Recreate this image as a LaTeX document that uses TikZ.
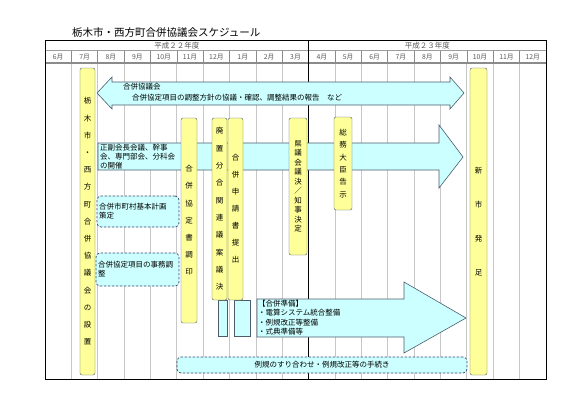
\documentclass[tikz,border=0pt]{standalone}
\usepackage{fontspec}
\setmainfont{Noto Sans CJK JP}
\usepackage{tikz}
\usetikzlibrary{calc}
\definecolor{PaleCyan}{rgb}{0.8, 1, 1}
\definecolor{PaleYellow}{rgb}{1, 1, 0.6}
\definecolor{EdgeGray}{rgb}{0.3, 0.36, 0.42}
\definecolor{DashBlue}{rgb}{0.18, 0.28, 0.4}
\definecolor{GridGray}{rgb}{0.78, 0.78, 0.78}
\definecolor{HeadGray}{rgb}{0.35, 0.35, 0.35}

\begin{document}
\begin{tikzpicture}[
    x=1pt, y=-1pt,
    yellowbar/.style={draw=EdgeGray, fill=PaleYellow, rounded corners=2pt,
        inner sep=0pt, align=center, font=\fontsize{7.5}{#1}\selectfont},
    yellowbar/.default=17,
    blockarrow/.style={draw=EdgeGray, fill=PaleCyan, line width=0.6pt},
    dashbox/.style={draw=DashBlue, fill=PaleCyan, dashed, line width=0.7pt,
        dash pattern=on 2.5pt off 1.5pt, rounded corners=4pt, inner sep=2pt,
        align=left, font=\fontsize{7.5}{9}\selectfont},
    arrowtext/.style={anchor=north west, inner sep=0pt, align=left,
        font=\fontsize{7.5}{#1}\selectfont},
    month/.style={text=HeadGray, inner sep=0pt, font=\fontsize{6.8}{7}\selectfont},
]
\useasboundingbox (0,0) rectangle (580,410);

% title
\node[anchor=west, inner sep=0pt, font=\fontsize{10.5}{12}\selectfont] (title)
    at (72,33) {栃木市・西方町合併協議会スケジュール};

% grid
\foreach \i in {1,...,18}
    \draw[GridGray, line width=0.8pt] (45+26.368*\i,63) -- (45+26.368*\i,379);
\foreach \i in {1,...,18}
    \draw[HeadGray!70, line width=0.6pt] (45+26.368*\i,50.5) -- (45+26.368*\i,63);
\draw[HeadGray!60, line width=0.5pt] (45,50.5) -- (546,50.5);
\draw[HeadGray!70, line width=1.4pt] (45,63) -- (546,63);
\draw[line width=1.2pt] (308.7,40) -- (308.7,379);
\draw[line width=1pt] (45,40) rectangle (546,379);

\node[month, font=\fontsize{7.5}{8}\selectfont] (fy22) at (176.8,45.5) {平成２２年度};
\node[month, font=\fontsize{7.5}{8}\selectfont] (fy23) at (427.4,45.5) {平成２３年度};
\foreach \m [count=\i from 0] in {6,7,8,9,10,11,12,1,2,3,4,5,6,7,8,9,10,11,12}
    \node[month] (m\i) at (58.2+26.368*\i,57) {{\m}月};

% block arrows
\draw[blockarrow] (97,93) -- (112,77) -- (112,82) -- (450,82) -- (450,77)
    -- (464,93) -- (450,109) -- (450,105) -- (112,105) -- (112,109) -- cycle;
\node[arrowtext=11] (council) at (123,83)
    {合併協議会\\\hspace*{9pt}合併協定項目の調整方針の協議・確認、調整結果の報告　など};

\draw[blockarrow] (98,143) -- (439,143) -- (439,125) -- (463,157)
    -- (439,188) -- (439,170) -- (98,170) -- cycle;
\node[arrowtext=9] (meetings) at (100,144)
    {正副会長会議、幹事\\会、専門部会、分科会\\の開催};

\draw[blockarrow] (257,299) -- (404,299) -- (404,282) -- (466,318)
    -- (404,353) -- (404,337) -- (257,337) -- cycle;
\node[arrowtext=9.4] (prep) at (258,300)
    {【合併準備】\\・電算システム統合整備\\・例規改正等整備\\・式典準備等};

% dashed boxes
\node[dashbox, minimum width=82, minimum height=31, text width=78] (plan)
    at (138,211.5) {合併市町村基本計画\\策定};
\node[dashbox, minimum width=83, minimum height=33, text width=79] (adjust)
    at (137.5,269.5) {合併協定項目の事務調\\整};
\node[dashbox, minimum width=290, minimum height=16, align=center] (rules)
    at (322,365) {例規のすり合わせ・例規改正等の手続き};

% small blocks under the bars
\draw[blockarrow] (218,300) rectangle (227,336);
\draw[blockarrow] (234,300) rectangle (250,336);

% vertical bars
\node[yellowbar=17.2, minimum width=15, minimum height=307] (setup) at (87.5,221.5)
    {栃\\木\\市\\・\\西\\方\\町\\合\\併\\協\\議\\会\\の\\設\\置};
\node[yellowbar=17.2, minimum width=16, minimum height=205] (sign) at (189,220.5)
    {合\\併\\協\\定\\書\\調\\印};
\node[yellowbar=17.3, minimum width=15, minimum height=182] (vote) at (219.5,209)
    {廃\\置\\分\\合\\関\\連\\議\\案\\議\\決};
\node[yellowbar=17, minimum width=15, minimum height=182] (apply) at (235.5,209)
    {合\\併\\申\\請\\書\\提\\出};
\node[yellowbar=9.5, minimum width=18, minimum height=137] (pref) at (298,186.5)
    {県\\議\\会\\議\\決\\／\\知\\事\\決\\定};
\node[yellowbar=12.4, minimum width=18, minimum height=93] (notice) at (343,163.5)
    {総\\務\\大\\臣\\告\\示};
\node[yellowbar=34, minimum width=17, minimum height=307] (newcity) at (478.5,221.5)
    {新\\市\\発\\足};

\end{tikzpicture}
\end{document}
